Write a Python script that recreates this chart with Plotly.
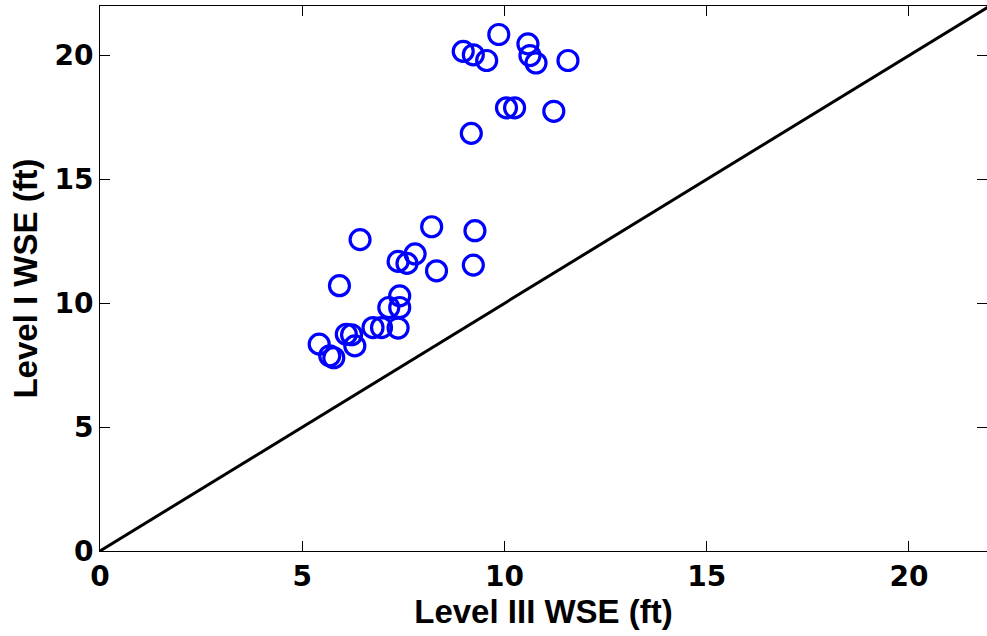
import plotly.graph_objects as go

level3_wse = [8.98, 9.23, 9.56, 9.86, 10.58, 10.63, 10.78, 11.57, 10.05, 10.25, 11.22, 9.18,
              6.43, 8.20, 9.27, 5.92, 7.79, 7.37, 7.59, 8.32, 9.23, 7.41, 7.14, 7.41,
              6.75, 6.96, 7.37, 6.09, 6.22, 6.30, 5.42, 5.68, 5.78]
level1_wse = [20.17, 20.03, 19.80, 20.85, 20.47, 20.00, 19.70, 19.80, 17.89, 17.89, 17.75, 16.86,
              12.57, 13.09, 12.93, 10.71, 11.99, 11.69, 11.61, 11.31, 11.54, 10.30, 9.83, 9.83,
              9.02, 9.02, 9.00, 8.75, 8.73, 8.28, 8.35, 7.88, 7.80]
line_x = [0, 22]
line_y = [0, 22]
tick_vals = [0, 5, 10, 15, 20]

TICK_FONT = "DejaVu Sans"
TITLE_FONT = "Liberation Sans"

fig = go.Figure()
fig.add_trace(go.Scatter(x=line_x, y=line_y, mode="lines",
                         line=dict(color="black", width=3), showlegend=False))
fig.add_trace(go.Scatter(x=level3_wse, y=level1_wse, mode="markers",
                         marker=dict(symbol="circle-open", size=20, color="#0000ff",
                                     line=dict(width=3.2, color="#0000ff")),
                         showlegend=False, cliponaxis=False))

axis_common = dict(showgrid=False, zeroline=False, showline=True, linecolor="black",
                   linewidth=1, mirror="ticks", ticks="inside", ticklen=10, tickwidth=1,
                   tickcolor="black", tickvals=tick_vals,
                   tickfont=dict(family=TICK_FONT, size=28, color="black", weight="bold"))

title_font = dict(family=TITLE_FONT, size=33, color="black", weight="bold")

fig.update_layout(
    width=987, height=636,
    margin=dict(l=100, r=0, t=6, b=85),
    paper_bgcolor="white", plot_bgcolor="white",
    xaxis=dict(range=[0, 21.93], title=dict(text="Level III WSE (ft)", standoff=0,
               font=title_font), **axis_common),
    yaxis=dict(range=[0, 22], title=dict(text="Level I WSE (ft)", standoff=6,
               font=title_font), **axis_common),
)

fig.write_html("out.html")
